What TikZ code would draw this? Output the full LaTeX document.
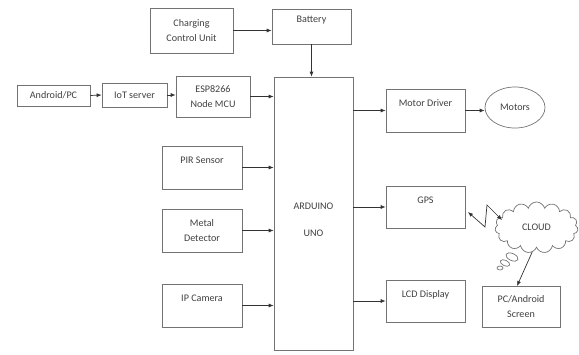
\documentclass[tikz,border=0pt]{standalone}
\usepackage{fontspec}
\setmainfont{Carlito}
\usepackage{tikz}
\usetikzlibrary{arrows.meta}
\usetikzlibrary{shapes.geometric, shapes.symbols}

\begin{document}
\begin{tikzpicture}[x=1pt, y=-1pt,
    every node/.style={font=\fontsize{10.1}{14.5}\selectfont, text=black!75},
    blk/.style={draw=black!55, line width=0.7pt, rectangle, inner sep=0pt, align=center},
    arr/.style={draw=black!80, line width=0.7pt, -{Latex[length=5pt,width=4pt]}}
]
    \useasboundingbox (0,0) rectangle (579,354);

    % Nodes
    \node[blk, minimum width=83, minimum height=45] (chg) at (191.5,30.5) {Charging\\Control Unit};
    \node[blk, minimum width=79, minimum height=35] (bat) at (311.5,26.5) {Battery\\ \phantom{X}};
    \node[blk, minimum width=73, minimum height=21] (and) at (53.5,95.5) {Android/PC};
    \node[blk, minimum width=65, minimum height=24] (iot) at (134.5,95) {IoT server};
    \node[blk, minimum width=74, minimum height=41] (esp) at (213,96.5) {ESP8266\\Node MCU};
    \node[blk, minimum width=79, minimum height=273] (ard) at (313.5,213.5) {};
    \node at (313.5,206) {ARDUINO};
    \node at (313.5,233) {UNO};

    \node[blk, minimum width=80, minimum height=43] (pir) at (202,167.5) {PIR Sensor\\ \phantom{X}};
    \node[blk, minimum width=80, minimum height=43] (met) at (202,230.5) {Metal\\Detector};
    \node[blk, minimum width=80, minimum height=43] (cam) at (202,305.5) {IP Camera\\ \phantom{X}};

    \node[blk, minimum width=79, minimum height=43] (mdr) at (425.5,110.5) {Motor Driver\\ \phantom{X}};
    \node[draw=black!55, line width=0.7pt, ellipse, inner sep=0pt,
        minimum width=60, minimum height=41] (mot) at (515,107.5) {Motors};
    \node[blk, minimum width=79, minimum height=42] (gps) at (425.5,207) {GPS\\ \phantom{X}};
    \node[blk, minimum width=79, minimum height=42] (lcd) at (425.5,301) {LCD Display\\ \phantom{X}};
    \node[blk, minimum width=78, minimum height=41] (scr) at (521,306.5) {PC/Android\\Screen};

    \node[draw=black!55, line width=0.7pt, cloud, cloud puffs=15, cloud ignores aspect,
        inner sep=0pt, minimum width=83, minimum height=51] (cld) at (536.5,227.5) {CLOUD};
    % thought bubbles
    \draw[black!55, line width=0.7pt, rotate around={-25:(512,257)}] (512,257) ellipse (6.5 and 3.5);
    \draw[black!55, line width=0.7pt, rotate around={-25:(505,263)}] (505,263) ellipse (5 and 2.8);
    \draw[black!55, line width=0.7pt] (500,268) ellipse (3 and 2);

    % Connectors
    \draw[arr] (chg.east) -- (chg.east -| bat.west);
    \draw[arr] (bat.south) -- (bat.south |- ard.north);
    \draw[arr] (and.east) -- (iot.west);
    \draw[arr] (iot.east) -- (iot.east -| esp.west);
    \foreach \n in {esp,pir,met,cam}{
        \draw[arr] (\n.east) -- (\n.east -| ard.west);
    }
    \foreach \n in {mdr,gps,lcd}{
        \draw[arr] (\n.west -| ard.east) -- (\n.west);
    }
    \draw[arr] (mdr.east) -- (mdr.east -| mot.west);

    % wireless link
    \coordinate (z1) at (468,212);
    \coordinate (z2) at (485,227);
    \coordinate (z3) at (487,205);
    \coordinate (z4) at (502,220);
    \draw[arr, {Latex[length=5pt,width=4pt]}-{Latex[length=5pt,width=4pt]}]
        (z1) -- (z2) -- (z3) -- (z4);

    \coordinate (scrin) at (517,286);
    \draw[arr] (cld.260) -- (scrin);
\end{tikzpicture}
\end{document}
